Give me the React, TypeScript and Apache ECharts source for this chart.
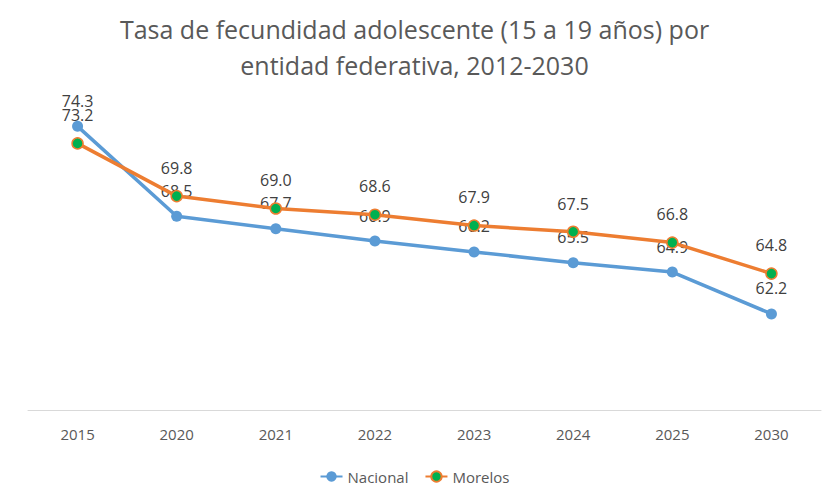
import React, { useEffect, useRef } from "react";
import * as echarts from "echarts";

const categories = ["2015", "2020", "2021", "2022", "2023", "2024", "2025", "2030"];
const nacional = [74.3, 68.5, 67.7, 66.9, 66.2, 65.5, 64.9, 62.2];
const morelos = [73.2, 69.8, 69.0, 68.6, 67.9, 67.5, 66.8, 64.8];

export default function App() {
  const ref = useRef<HTMLDivElement>(null);
  useEffect(() => {
    if (!ref.current) return;
    const chart = echarts.init(ref.current, undefined, { renderer: "svg" });
    const font = "'Open Sans', 'Noto Sans', sans-serif";
    chart.setOption({
      animation: false,
      backgroundColor: "#ffffff",
      textStyle: { fontFamily: font },
      title: {
        text: "Tasa de fecundidad adolescente (15 a 19 años) por\nentidad federativa, 2012-2030",
        left: "center",
        top: 6,
        textStyle: { fontSize: 25, fontWeight: "normal", color: "#595959", lineHeight: 36, fontFamily: font },
      },
      legend: {
        bottom: 14,
        left: "center",
        itemWidth: 22,
        itemHeight: 13,
        itemGap: 16,
        textStyle: { fontSize: 15, color: "#595959", fontFamily: font },
        data: ["Nacional", "Morelos"],
      },
      grid: { left: 28, right: 8, top: 100, bottom: 93 },
      xAxis: {
        type: "category",
        data: categories,
        boundaryGap: true,
        axisLine: { lineStyle: { color: "#d9d9d9", width: 1 } },
        axisTick: { show: false },
        axisLabel: { color: "#595959", fontSize: 15, margin: 16, fontFamily: font },
      },
      yAxis: {
        type: "value",
        min: 56,
        max: 76,
        show: false,
        splitLine: { show: false },
      },
      series: [
        {
          name: "Nacional",
          type: "line",
          data: nacional,
          symbol: "circle",
          symbolSize: 11,
          lineStyle: { color: "#5B9BD5", width: 3.5 },
          itemStyle: { color: "#5B9BD5" },
          label: { show: true, position: "top", distance: 12, fontSize: 16, color: "#404040", formatter: (p: any) => p.value.toFixed(1) },
          z: 2,
        },
        {
          name: "Morelos",
          type: "line",
          data: morelos,
          symbol: "circle",
          symbolSize: 11,
          lineStyle: { color: "#ED7D31", width: 3.5 },
          itemStyle: { color: "#00B050", borderColor: "#ED7D31", borderWidth: 1.5 },
          label: { show: true, position: "top", distance: 14, fontSize: 16, color: "#404040", formatter: (p: any) => p.value.toFixed(1) },
          z: 3,
        },
      ],
    });
    return () => chart.dispose();
  }, []);
  return <div ref={ref} style={{ position: "absolute", left: 0, top: 0, width: 829, height: 503 }} />;
}
